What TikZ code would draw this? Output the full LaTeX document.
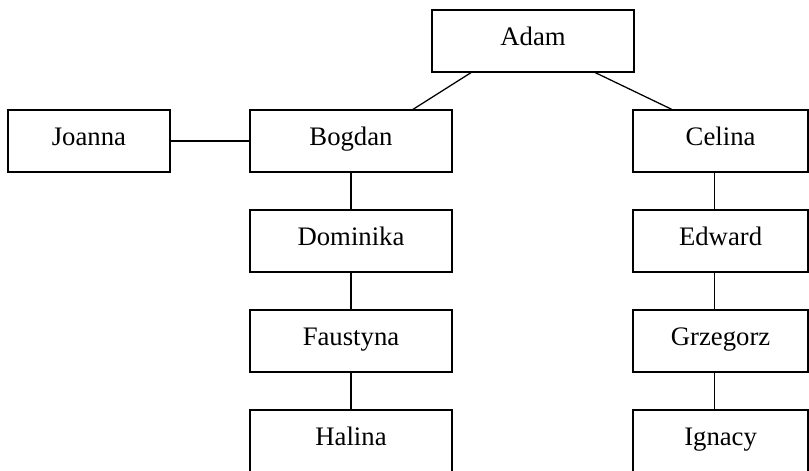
\documentclass[tikz,border=0pt]{standalone}
\usepackage{fontspec}
\setmainfont{Liberation Serif}
\usetikzlibrary{positioning}
\tikzset{person/.style={draw,line width=0.9pt,minimum height=1.55cm,minimum width=5.05cm,
    inner sep=0pt,outer sep=0pt,text height=0.86em,text depth=0.24em,
    font=\fontsize{19}{23}\selectfont}}

\begin{document}
\begin{tikzpicture}[x=0.025cm,y=-0.025cm,node distance=0.95cm and 2cm,line width=0.9pt]
    \useasboundingbox (0,0) rectangle (809,470);
    \node[person] (adam) at (533,41) {Adam};
    \node[person] (bogdan) at (351,141) {Bogdan};
    \node[person,minimum width=4.05cm] (joanna) [left=of bogdan] {Joanna} edge (bogdan);
    \node[person,minimum width=4.375cm] (celina) [right=4.525cm of bogdan] {Celina};
    \node[person] (dominika) [below=of bogdan] {Dominika} edge (bogdan);
    \node[person] (faustyna) [below=of dominika] {Faustyna} edge (dominika);
    \node[person] (halina) [below=of faustyna] {Halina} edge (faustyna);
    \node[person,minimum width=4.375cm] (edward) [below=of celina] {Edward};
    \node[person,minimum width=4.375cm] (grzegorz) [below=of edward] {Grzegorz};
    \node[person,minimum width=4.375cm] (ignacy) [below=of grzegorz] {Ignacy};
    \draw ([xshift=1cm]adam.south west) -- ([xshift=-1cm]bogdan.north east);
    \draw ([xshift=-1cm]adam.south east) -- ([xshift=1cm]celina.north west);
    \draw ([xshift=-0.16cm]celina.south) -- ([xshift=-0.16cm]edward.north);
    \draw ([xshift=-0.16cm]edward.south) -- ([xshift=-0.16cm]grzegorz.north);
    \draw ([xshift=-0.16cm]grzegorz.south) -- ([xshift=-0.16cm]ignacy.north);
  \end{tikzpicture}
\end{document}
